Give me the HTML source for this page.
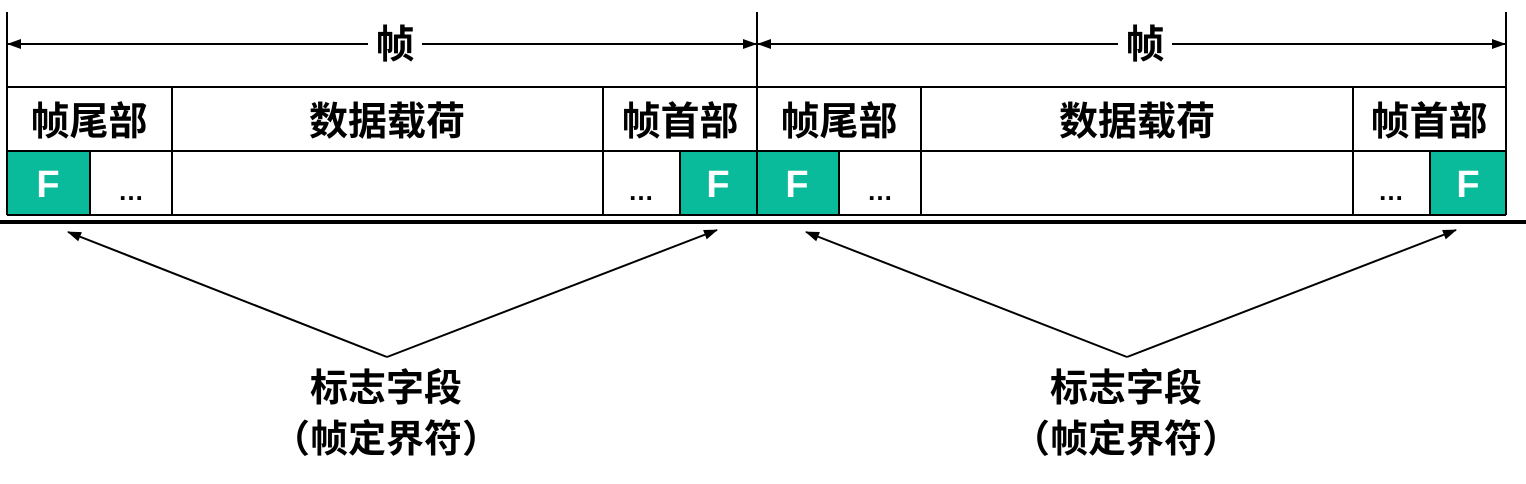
<!DOCTYPE html>
<html><head><meta charset="utf-8"><style>
html,body{margin:0;padding:0;background:#fff;width:1526px;height:484px;overflow:hidden}
text{font-family:"Liberation Sans","Noto Sans CJK SC",sans-serif;font-weight:bold;fill:#000}
</style></head><body>
<svg width="1526" height="484" viewBox="0 0 1526 484" xmlns="http://www.w3.org/2000/svg">
<defs>
<marker id="a" markerWidth="14" markerHeight="10" refX="13" refY="5" orient="auto" markerUnits="userSpaceOnUse"><path d="M0,0 L14,5 L0,10 z" fill="#000"/></marker>
</defs>
<g fill="#0abb9b">
<rect x="7" y="151" width="83" height="64"/><rect x="680" y="151" width="77" height="64"/>
<rect x="757" y="151" width="82" height="64"/><rect x="1430" y="151" width="76" height="64"/>
</g>
<g stroke="#000" stroke-width="2" fill="none">
<line x1="7" y1="12" x2="7" y2="215"/><line x1="757" y1="12" x2="757" y2="215"/><line x1="1506" y1="12" x2="1506" y2="215"/>
<line x1="7" y1="87" x2="1506" y2="87"/><line x1="7" y1="151" x2="1506" y2="151"/><line x1="7" y1="215" x2="1506" y2="215"/>
<line x1="172" y1="87" x2="172" y2="215"/><line x1="603" y1="87" x2="603" y2="215"/>
<line x1="921" y1="87" x2="921" y2="215"/><line x1="1353" y1="87" x2="1353" y2="215"/>
<line x1="90" y1="151" x2="90" y2="215"/><line x1="680" y1="151" x2="680" y2="215"/>
<line x1="839" y1="151" x2="839" y2="215"/><line x1="1430" y1="151" x2="1430" y2="215"/>
<line x1="368" y1="44" x2="8" y2="44" marker-end="url(#a)"/><line x1="422" y1="44" x2="756" y2="44" marker-end="url(#a)"/>
<line x1="1118" y1="44" x2="758" y2="44" marker-end="url(#a)"/><line x1="1172" y1="44" x2="1505" y2="44" marker-end="url(#a)"/>
<line x1="387" y1="357" x2="68" y2="232" marker-end="url(#a)"/><line x1="387" y1="357" x2="717" y2="230" marker-end="url(#a)"/>
<line x1="1127" y1="357" x2="806" y2="232" marker-end="url(#a)"/><line x1="1127" y1="357" x2="1456" y2="230" marker-end="url(#a)"/>
</g>
<line x1="0" y1="222" x2="1526" y2="222" stroke="#000" stroke-width="4"/>
<g font-size="39" text-anchor="middle">
<text x="395" y="58">帧</text><text x="1145" y="58">帧</text>
<text x="89" y="135">帧尾部</text><text x="387" y="135">数据载荷</text><text x="680" y="135">帧首部</text>
<text x="839" y="135">帧尾部</text><text x="1137" y="135">数据载荷</text><text x="1429" y="135">帧首部</text>
</g>
<g font-size="38" text-anchor="middle">
<text x="48" y="197" style="fill:#fff">F</text><text x="718" y="197" style="fill:#fff">F</text>
<text x="797" y="197" style="fill:#fff">F</text><text x="1468" y="197" style="fill:#fff">F</text>
</g>
<g font-size="26" text-anchor="middle">
<text x="131" y="200">…</text><text x="641" y="200">…</text><text x="880" y="200">…</text><text x="1391" y="200">…</text>
</g>
<g font-size="38" text-anchor="middle">
<text x="386" y="401">标志字段</text><text x="386" y="452">（帧定界符）</text>
<text x="1126" y="401">标志字段</text><text x="1126" y="452">（帧定界符）</text>
</g>
</svg>
</body></html>
